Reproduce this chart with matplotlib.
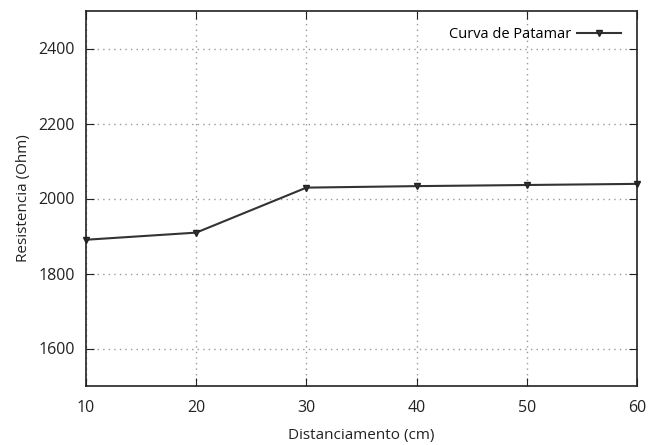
import matplotlib
matplotlib.use("Agg")
from matplotlib import pyplot as plt

distance = [10, 20, 30, 40, 50, 60]
resistance = [1890, 1909, 2029, 2033, 2036, 2039]
y_ticks = [1600, 1800, 2000, 2200, 2400]
x_ticks = [10, 20, 30, 40, 50, 60]


def main():
    plt.rcParams["font.family"] = ["Open Sans", "DejaVu Sans"]
    fig = plt.figure(figsize=(6.48, 4.45), dpi=100)
    ax = fig.add_axes([86 / 648, 1 - 386 / 445, (637 - 86) / 648, (386 - 11) / 445])

    ax.plot(distance, resistance, color="#333333", linewidth=1.5,
            marker="v", markersize=5, markerfacecolor="#333333",
            markeredgecolor="#222222", label="Curva de Patamar", clip_on=False)

    ax.set_xlim(10, 60)
    ax.set_ylim(1500, 2500)
    ax.set_xticks(x_ticks)
    ax.set_yticks(y_ticks)
    ax.grid(True, color="#999999", linestyle=(0, (1, 3)), linewidth=1)
    ax.tick_params(direction="in", length=6, top=True, right=True,
                   labelsize=11.5, colors="#222222")
    ax.tick_params(axis="x", pad=10)
    ax.tick_params(axis="y", pad=8)
    for s in ax.spines.values():
        s.set_color("#222222")
        s.set_linewidth(1.2)

    ax.set_xlabel("Distanciamento (cm)", fontsize=11, color="#222222", labelpad=8.5)
    ax.set_ylabel("Resistencia (Ohm)", fontsize=11, color="#222222", labelpad=5)

    ax.legend(loc="upper right", frameon=False, markerfirst=False,
              fontsize=10.5, handlelength=3.0, handletextpad=0.4,
              borderaxespad=0.7)

    fig.savefig("out.png", dpi=100)


if __name__ == "__main__":
    main()
